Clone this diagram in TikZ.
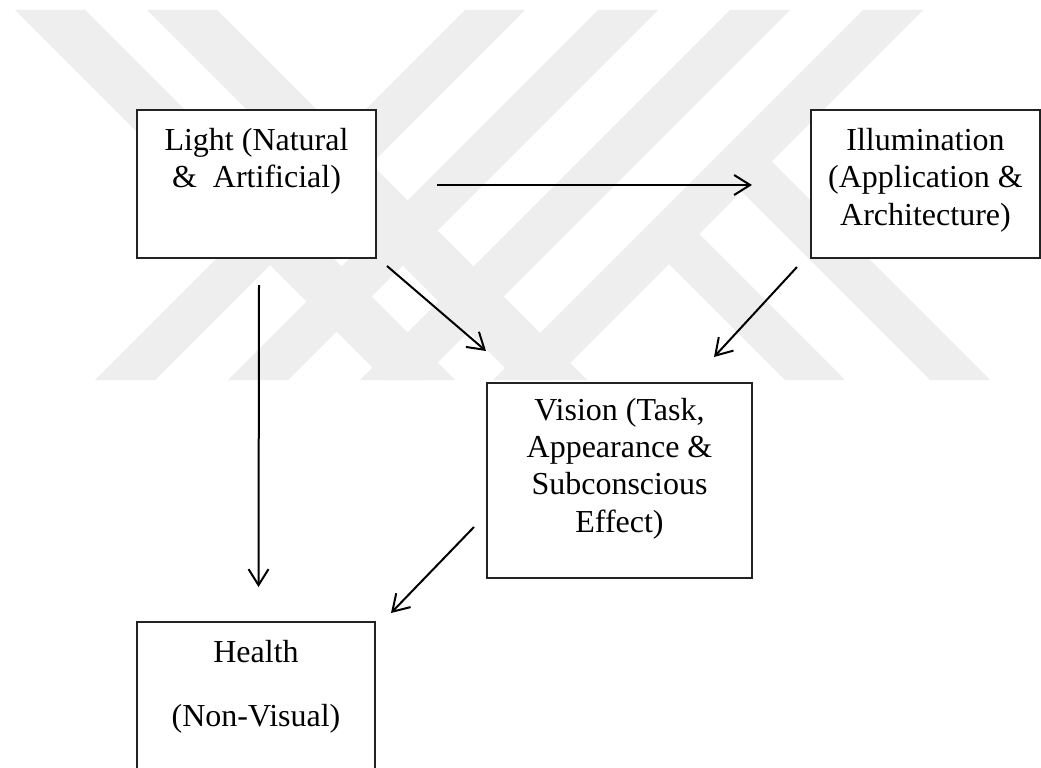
\documentclass[tikz,border=0pt]{standalone}
\usepackage{fontspec}
\setmainfont{Liberation Serif}
\usetikzlibrary{positioning,arrows.meta}
\definecolor{markgray}{HTML}{EEEEEE}
\definecolor{boxline}{HTML}{222222}

\begin{document}
\begin{tikzpicture}[
  x=0.75pt, y=-0.75pt,
  box/.style={draw=boxline, line width=0.8pt, fill=white,
              inner sep=0pt, outer sep=0pt},
  boxtext/.style={inner sep=0pt, align=center,
                  font=\fontsize{24}{28}\selectfont},
  arrow/.style={-{Straight Barb[length=12pt,width=15pt]}, line width=1.5pt},
  wmark/.style={fill=markgray}
]
  \useasboundingbox (0,0) rectangle (1041,767);
  \fill[white] (0,0) rectangle (1041,767);
  \clip (0,0) rectangle (1041,767);

  % watermark stripes
  \fill[wmark] (15,10) -- (85,10) -- (455,380) -- (385,380) -- cycle;
  \fill[wmark] (147,10) -- (217,10) -- (587,380) -- (517,380) -- cycle;
  \fill[wmark] (465,10) -- (525,10) -- (155,380) -- (95,380) -- cycle;
  \fill[wmark] (598,10) -- (658,10) -- (288,380) -- (228,380) -- cycle;
  \fill[wmark] (730,10) -- (790,10) -- (420,380) -- (360,380) -- cycle;
  \fill[wmark] (863,10) -- (923,10) -- (553,380) -- (493,380) -- cycle;
  \fill[wmark] (741.5,191.5) -- (771.5,161.5) -- (990,380) -- (930,380) -- cycle;
  \fill[wmark] (669,264) -- (699,234) -- (845,380) -- (785,380) -- cycle;

  \node[box, minimum width=179.25pt, minimum height=111pt]    (light)  at (256.5,184) {};
  \node[box, minimum width=171.75pt, minimum height=111pt]    (illum)  at (925.5,184) {};
  \node[box, minimum width=198.75pt, minimum height=146.25pt] (vision) at (619.5,480.5) {};
  \node[box, minimum width=178.5pt,  minimum height=133.5pt]  (health) at (256,711) {};

  \node[boxtext, below=13.5pt of light.north]  (lighttxt)  {Light (Natural\\ \&~ Artificial)};
  \node[boxtext, below=13.5pt of illum.north]  (illumtxt)  {Illumination\\(Application \&\\Architecture)};
  \node[boxtext, below=11pt of vision.north]   (visiontxt) {Vision (Task,\\Appearance \&\\Subconscious\\Effect)};
  \node[boxtext, below=13.5pt of health.north] (healthtxt) {Health\\[20pt](Non-Visual)};

  \draw[arrow] ([shift={(61,1)}]light.east) -- ([shift={(-59,1)}]illum.west);
  \draw[arrow] ([shift={(2.5,27)}]light.south) -- ([shift={(2.5,-35)}]health.north);
  \draw[arrow] ([shift={(11,8)}]light.south east) -- ([shift={(-1,-32)}]vision.north west);
  \draw[arrow] ([shift={(-14,9)}]illum.south west) -- ([shift={(94.5,-26)}]vision.north);
  \draw[arrow] ([shift={(-13,46.5)}]vision.west) -- ([shift={(16,-9)}]health.north east);
\end{tikzpicture}
\end{document}
